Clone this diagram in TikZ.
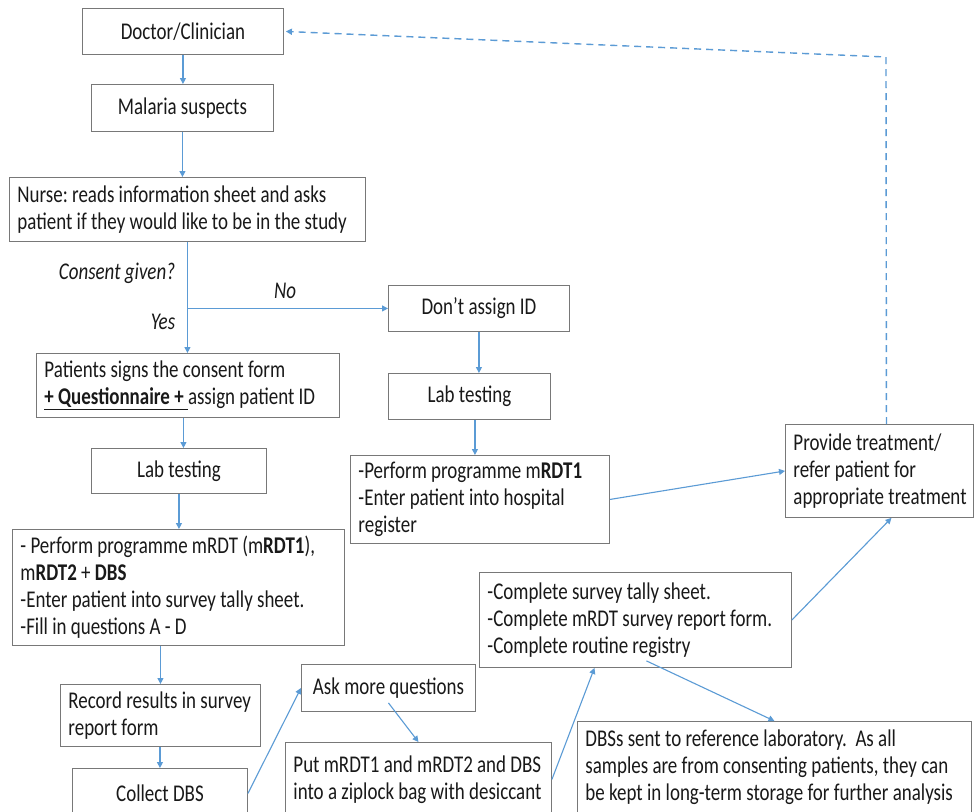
\documentclass[tikz,border=0pt]{standalone}
\usepackage{fontspec}
\setmainfont[FakeStretch=0.79]{Carlito}
\usetikzlibrary{arrows.meta,calc}
\definecolor{conn}{RGB}{91,155,213}
\definecolor{bgray}{RGB}{120,120,120}
\definecolor{txt}{RGB}{25,25,25}
\newcommand\fs{\fontsize{24}{27}\selectfont\frenchspacing}
\newcommand\nb[1]{\mbox{\spaceskip=0pt\xspaceskip=0pt #1}}
\tikzset{
  box/.style={draw=bgray, line width=0.9pt, inner xsep=8pt, inner ysep=0pt, anchor=north west, font=\fs, text=txt},
  lbox/.style={box, align=left},
  cbox/.style={box, align=center},
  lab/.style={font=\fs\itshape, inner sep=0pt, text=txt},
  arr/.style={draw=conn, line width=1.1pt, -{Triangle[length=6pt,width=6pt]}},
  dasharr/.style={draw=conn, line width=1.4pt, dash pattern=on 7pt off 5pt, -{Triangle[length=6pt,width=6pt]}}
}
\begin{document}
\begin{tikzpicture}[x=1pt,y=-1pt]
\useasboundingbox (0,0) rectangle (974,811);
\fill[white] (0,0) rectangle (974,811);
\clip (0,0) rectangle (974,811);

% left column
\node[cbox, minimum width=201pt, minimum height=46pt] (doc) at (82,8) {Doctor/Clinician};
\node[cbox, minimum width=182pt, minimum height=47pt] (mal) at (91,84) {Malaria suspects};
\node[lbox, text width=340pt, minimum height=64pt] (nurse) at (9,177)
  {\nb{Nurse: reads information sheet and asks}\\\nb{patient if they would like to be in the study}};
\node[lbox, text width=287pt, minimum height=64pt] (pat) at (36,353)
  {\nb{Patients signs the consent form}\\\nb{\underline{\textbf{+ Questionnaire +}\ }assign patient ID}};
\node[cbox, minimum width=175pt, minimum height=45pt] (lab1) at (91,448) {Lab testing};
\node[lbox, text width=316pt, minimum height=116pt] (perf) at (12,529)
  {\nb{- Perform programme mRDT (m\textbf{RDT1}),}\\\nb{m\textbf{RDT2} + \textbf{DBS}}\\\nb{-Enter patient into survey tally sheet.}\\\nb{-Fill in questions A - D}};
\node[lbox, text width=184pt, minimum height=62pt] (rec) at (60,684)
  {\nb{Record results in survey}\\\nb{report form}};
\node[cbox, minimum width=175pt, minimum height=50pt] (col) at (72,768) {Collect DBS};

% middle / right
\node[cbox, minimum width=181pt, minimum height=46pt] (dont) at (388,285) {Don’t assign ID};
\node[cbox, minimum width=162pt, minimum height=46pt] (lab2) at (388,373) {Lab testing};
\node[lbox, text width=243pt, minimum height=88pt] (mrdt1) at (350,455)
  {\nb{-Perform programme m\textbf{RDT1}}\\\nb{-Enter patient into hospital}\\\nb{register}};
\node[lbox, text width=172pt, minimum height=93pt] (prov) at (785,424)
  {\nb{Provide treatment/}\\\nb{refer patient for}\\\nb{appropriate treatment}};
\node[cbox, minimum width=174pt, minimum height=47pt] (ask) at (301,664) {Ask more questions};
\node[lbox, text width=250pt, minimum height=74pt] (put) at (285,742)
  {\nb{Put mRDT1 and mRDT2 and DBS}\\\nb{into a ziplock bag with desiccant}};
\node[lbox, text width=296pt, minimum height=95pt] (comp) at (479,572)
  {\nb{-Complete survey tally sheet.}\\\nb{-Complete mRDT survey report form.}\\\nb{-Complete routine registry}};
\node[lbox, text width=378pt, minimum height=92pt] (dbs) at (577,721)
  {\nb{DBSs sent to reference laboratory.\ \ As all}\\\nb{samples are from consenting patients, they can}\\\nb{be kept in long-term storage for further analysis}};

% labels
\node[lab] (consent) at (117,273) {Consent given?};
\node[lab] (no) at (285,291) {No};
\node[lab] (yes) at (163,322) {Yes};

% connectors
\draw[arr] (doc.south) -- (doc.south |- mal.north);
\draw[arr] (mal.south) -- (mal.south |- nurse.north);
\draw[arr] (nurse.south) -- (nurse.south |- pat.north);
\coordinate (br) at (nurse.south |- dont.west);
\draw[arr] (br) -- (dont.west);
\coordinate (lt) at ([xshift=4.5pt]lab1.north);
\draw[arr] (lt |- pat.south) -- (lt);
\draw[arr] (lab1.south) -- (lab1.south |- perf.north);
\draw[arr] (rec.north |- perf.south) -- (rec.north);
\draw[arr] (col.north |- rec.south) -- (col.north);
\draw[arr] (col.east) -- (ask.west);
\draw[arr] ([yshift=9pt]ask.south) -- (put.north);
\draw[arr] (put.east) -- ([xshift=-41pt]comp.south);
\draw[arr] ([xshift=11pt,yshift=7pt]comp.south) -- (dbs.north);
\draw[arr] (comp.east) -- ([xshift=12pt]prov.south);
\draw[arr] (dont.south) -- (dont.south |- lab2.north);
\coordinate (l2) at ([xshift=5.5pt]lab2.south);
\draw[arr] (l2) -- (l2 |- mrdt1.north);
\draw[arr] (mrdt1.east) -- (prov.west);
\coordinate (corner) at (886,57);
\draw[dasharr] ([xshift=7pt]prov.north) -- (corner) -- ([xshift=2pt]doc.east);
\end{tikzpicture}
\end{document}
